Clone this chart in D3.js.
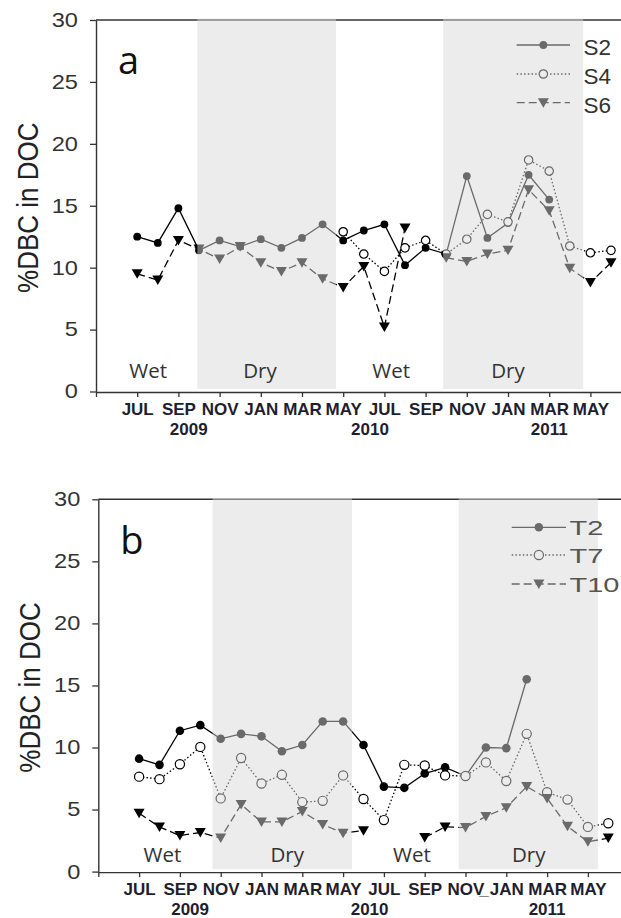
<!DOCTYPE html>
<html>
<head>
<meta charset="utf-8">
<script src="https://cdn.jsdelivr.net/npm/d3@7"></script>
<style>
  html, body { margin: 0; padding: 0; background: #fff; }
  svg { display: block; }
</style>
</head>
<body>
<svg id="chart" width="621" height="918"></svg>
<script>
// Month index: 0 = JUL 2009 ... 23 = JUN 2011 (null = not sampled)
const tickIdx    = [-2, 0, 2, 4, 6, 8, 10, 12, 14, 16, 18, 20, 22];
const tickLabels = ["", "JUL", "SEP", "NOV", "JAN", "MAR", "MAY", "JUL", "SEP", "NOV", "JAN", "MAR", "MAY"];
const yearIdx    = [2.5, 11.3, 20];
const yearLabels = ["2009", "2010", "2011"];
const yTicks     = [0, 5, 10, 15, 20, 25, 30];
const seasonNames = ["Wet", "Dry", "Wet", "Dry"];

// Panel a: sites S2, S4, S6
const namesA = ["S2", "S4", "S6"];
const S2 = [12.5, 12.0, 14.8, 11.4, 12.2, 11.7, 12.3, 11.6, 12.4, 13.5, 12.2, 13.0,
            13.5, 10.2, 11.6, 11.1, 17.4, 12.4, 13.6, 17.5, 15.5, null, null, null];
const S4 = [null, null, null, null, null, null, null, null, null, null, 12.9, 11.1,
            9.7, 11.6, 12.2, 11.1, 12.3, 14.3, 13.7, 18.7, 17.8, 11.75, 11.2, 11.4];
const S6 = [9.5, 9.0, 12.2, 11.5, 10.7, 11.7, 10.4, 9.7, 10.4, 9.1, 8.4, 10.1,
            5.2, 13.2, null, 10.8, 10.5, 11.1, 11.4, 16.3, 14.6, 9.95, 8.8, 10.4];
const dryA = [[2.92, 9.65], [14.85, 21.65]];
const seasonIdxA = [0.53, 5.96, 12.33, 18.0];

// Panel b: sites T2, T7, T10
const namesB = ["T2", "T7", "T10"];
const T2  = [9.1, 8.6, 11.35, 11.8, 10.7, 11.1, 10.9, 9.7, 10.2, 12.1, 12.1, 10.2,
             6.85, 6.75, 7.9, 8.4, 7.7, 10.0, 9.95, 15.5, null, null, null, null];
const T7  = [7.65, 7.45, 8.65, 10.05, 5.9, 9.15, 7.1, 7.8, 5.6, 5.7, 7.75, 5.85,
             4.15, 8.6, 8.55, 7.75, 7.7, 8.8, 7.3, 11.1, 6.4, 5.8, 3.6, 3.9];
const T10 = [4.7, 3.6, 2.9, 3.15, 2.7, 5.4, 4.0, 4.0, 4.85, 3.8, 3.1, 3.3,
             null, null, 2.75, 3.6, 3.55, 4.45, 5.15, 6.85, 5.9, 3.65, 2.4, 2.7];
const dryB = [[3.6, 10.44], [15.67, 22.49]];
const seasonIdxB = [1.14, 7.26, 13.37, 19.1];

const svg = d3.select("#chart");
const SANS = "'Liberation Sans', Arial, sans-serif";
const HUMAN = "'Open Sans', sans-serif";

// line style and marker for the three series of each panel
const styles = [
  { dash: null,    marker: "filled" },
  { dash: "1.5,2.2", marker: "open" },
  { dash: "8,4",   marker: "tri" }
];
const triPath = "M-5.5,-4.5L5.5,-4.5L0,5Z";

function drawMarker(sel, kind, r) {
  if (kind === "tri") {
    sel.append("path").attr("d", triPath).attr("fill", "#000");
  } else if (kind === "open") {
    sel.append("circle").attr("r", r).attr("fill", "#fff")
      .attr("stroke", "#000").attr("stroke-width", 1.2);
  } else {
    sel.append("circle").attr("r", r - 0.3).attr("fill", "#000");
  }
}

function drawPanel(cfg) {
  const g = svg.append("g");
  const x = d3.scaleLinear().domain([-2, 24]).range([cfg.left, cfg.left + 26 * cfg.step]);
  const y = d3.scaleLinear().domain([0, 30]).range([cfg.bottom, cfg.top]);

  // series lines
  const line = d3.line().defined(d => d != null).x((d, i) => x(i)).y(d => y(d));
  cfg.series.forEach((vals, k) => {
    g.append("path").datum(vals).attr("d", line)
      .attr("fill", "none").attr("stroke", "#000").attr("stroke-width", 1.3)
      .attr("stroke-dasharray", styles[k].dash);
  });
  // series markers
  cfg.series.forEach((vals, k) => {
    const pts = vals.map((v, i) => ({ v, i })).filter(d => d.v != null);
    g.append("g").selectAll("g").data(pts).join("g")
      .attr("transform", d => `translate(${x(d.i)},${y(d.v)})`)
      .each(function () { drawMarker(d3.select(this), styles[k].marker, cfg.r); });
  });

  // legend symbols
  cfg.names.forEach((n, k) => {
    const ly = cfg.legY[k];
    g.append("line").attr("x1", cfg.legX1).attr("x2", cfg.legX2).attr("y1", ly).attr("y2", ly)
      .attr("stroke", "#000").attr("stroke-width", 1.3).attr("stroke-dasharray", styles[k].dash);
    const m = g.append("g").attr("transform", `translate(${(cfg.legX1 + cfg.legX2) / 2},${ly})`);
    drawMarker(m, styles[k].marker, cfg.r);
  });

  // top frame line
  g.append("line").attr("x1", cfg.left).attr("x2", 621).attr("y1", cfg.top).attr("y2", cfg.top)
    .attr("stroke", "#333").attr("stroke-width", 1.6);

  // dry-season bands, laid over the data so marks inside them read grey
  g.append("g").selectAll("rect").data(cfg.dry).join("rect")
    .attr("x", d => x(d[0])).attr("width", d => x(d[1]) - x(d[0]))
    .attr("y", cfg.top - 1.5).attr("height", cfg.bottom - 2.5 - (cfg.top - 1.5))
    .attr("fill", "#d9d9d9").attr("fill-opacity", 0.49);

  // season names
  g.append("g").selectAll("text").data(seasonNames).join("text")
    .attr("x", (d, i) => x(cfg.seasonIdx[i])).attr("y", cfg.seasonY)
    .attr("text-anchor", "middle").attr("font-family", HUMAN).attr("font-size", 20.5)
    .attr("fill", "#333").text(d => d);

  // panel letter
  g.append("text").attr("x", cfg.left + 22).attr("y", cfg.letterY)
    .attr("font-family", HUMAN).attr("font-size", 38).attr("fill", "#111").text(cfg.letter);

  // legend labels
  cfg.names.forEach((n, k) => {
    g.append("text")
      .attr("transform", `translate(${cfg.legTextX},${cfg.legY[k] + cfg.legDy}) scale(${cfg.legSx},1)`)
      .attr("font-family", SANS).attr("font-size", cfg.legFont).attr("fill", cfg.legColor).text(n);
  });

  // y axis
  const ya = g.append("g").attr("transform", `translate(${cfg.left},0)`)
    .call(d3.axisLeft(y).tickValues(yTicks).tickSize(6).tickPadding(9.3).tickSizeOuter(0));
  ya.select(".domain").attr("stroke", "#333").attr("stroke-width", 1.4);
  ya.selectAll(".tick line").attr("stroke", "#333").attr("stroke-width", 1.3);
  ya.selectAll(".tick text").attr("font-family", SANS).attr("font-size", 20)
    .attr("fill", "#333").attr("transform", "scale(1.18,1)");

  // x axis
  const xa = g.append("g").attr("transform", `translate(0,${cfg.bottom + 0.5})`)
    .call(d3.axisBottom(x).tickValues(tickIdx).tickSize(5).tickPadding(6).tickSizeOuter(0)
      .tickFormat((d, i) => tickLabels[i]));
  xa.select(".domain").attr("stroke", "#333").attr("stroke-width", 1.4);
  xa.selectAll(".tick line").attr("stroke", "#333").attr("stroke-width", 1.3);
  xa.selectAll(".tick text").attr("font-family", SANS).attr("font-size", 17)
    .attr("font-weight", "bold").attr("fill", "#1e1e2e");

  if (cfg.underscoreAt != null) {
    const t = xa.selectAll(".tick").filter(d => d === cfg.underscoreAt).select("text");
    const w = t.node().getComputedTextLength();
    xa.append("text").attr("x", x(cfg.underscoreAt) + w / 2).attr("y", t.attr("y")).attr("dy", "0.71em")
      .attr("font-family", SANS).attr("font-size", 17).attr("font-weight", "bold")
      .attr("fill", "#1e1e2e").text("_");
  }

  // year labels
  g.append("g").selectAll("text").data(yearLabels).join("text")
    .attr("x", (d, i) => x(yearIdx[i])).attr("y", cfg.bottom + 43.5)
    .attr("text-anchor", "middle").attr("font-family", SANS).attr("font-size", 17)
    .attr("font-weight", "bold").attr("fill", "#1e1e2e").text(d => d);

  // y axis title
  const cy = (cfg.top + cfg.bottom) / 2 + 2;
  g.append("text")
    .attr("transform", `translate(${cfg.titleX},${cy}) scale(1.15,1) rotate(-90)`)
    .attr("text-anchor", "middle").attr("dy", "0.36em")
    .attr("font-family", SANS).attr("font-size", 26).attr("fill", "#222")
    .text("%DBC in DOC");
}

drawPanel({
  letter: "a", names: namesA, series: [S2, S4, S6], dry: dryA, seasonIdx: seasonIdxA,
  left: 96, step: 20.6, top: 20, bottom: 391.5, r: 4.2,
  seasonY: 377.5, letterY: 74,
  legX1: 516.7, legX2: 570, legY: [45, 74, 102.7], legTextX: 583.5, legDy: 10,
  legFont: 22.5, legSx: 1, legColor: "#333",
  titleX: 27, underscoreAt: null
});

drawPanel({
  letter: "b", names: namesB, series: [T2, T7, T10], dry: dryB, seasonIdx: seasonIdxB,
  left: 98.3, step: 20.4, top: 499.3, bottom: 871.6, r: 4.6,
  seasonY: 861.5, letterY: 554,
  legX1: 511.7, legX2: 566, legY: [527.3, 555, 584], legTextX: 569.5, legDy: 7.6,
  legFont: 21, legSx: 1.38, legColor: "#555",
  titleX: 29, underscoreAt: 16
});
</script>
</body>
</html>
